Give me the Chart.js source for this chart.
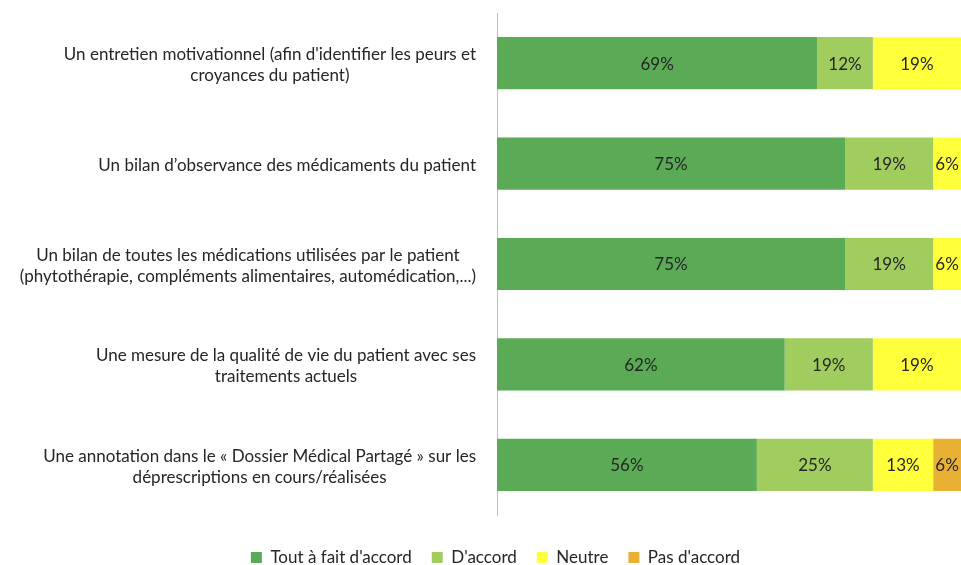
<!DOCTYPE html>
<html><head><meta charset="utf-8">
<script src="https://cdn.jsdelivr.net/npm/chart.js@4/dist/chart.umd.min.js"></script>
<style>html,body{margin:0;padding:0;background:#fff}canvas{display:block}</style>
</head><body>
<canvas id="c" width="961" height="565"></canvas>
<script>
const categories = [
  ["Un entretien motivationnel (afin d'identifier les peurs et", "croyances du patient)"],
  ["Un bilan d\u2019observance des médicaments du patient"],
  ["Un bilan de toutes les médications utilisées par le patient", "(phytothérapie, compléments alimentaires, automédication,...)"],
  ["Une mesure de la qualité de vie du patient avec ses", "traitements actuels"],
  ["Une annotation dans le « Dossier Médical Partagé » sur les", "déprescriptions en cours/réalisées"]
];
const seriesNames = ["Tout à fait d'accord", "D'accord", "Neutre", "Pas d'accord"];
const toutAFait = [69, 75, 75, 62, 56];
const dAccord = [12, 19, 19, 19, 25];
const neutre = [19, 6, 6, 19, 13];
const pasDAccord = [0, 0, 0, 0, 6];
const colors = ["#5BAA56", "#A0CD5E", "#FFFF3C", "#E9B133"];

const FONT = "Lato, 'Open Sans', sans-serif";

const labelPlugin = {
  id: 'customLabels',
  afterDatasetsDraw(chart) {
    const ctx = chart.ctx;
    ctx.save();
    ctx.font = "17px " + FONT;
    ctx.fillStyle = "#262626";
    ctx.textAlign = "center";
    ctx.textBaseline = "middle";
    chart.data.datasets.forEach((ds, di) => {
      const meta = chart.getDatasetMeta(di);
      meta.data.forEach((bar, i) => {
        const v = ds.data[i];
        if (!v) return;
        const x = (bar.x + bar.base) / 2;
        ctx.fillText(v + "%", x, bar.y + 1);
      });
    });
    const ys = chart.scales.y;
    const right = ys.right - 21;
    categories.forEach((lines, i) => {
      const yc = ys.getPixelForValue(i);
      let maxW = 0;
      lines.forEach(l => { maxW = Math.max(maxW, ctx.measureText(l).width); });
      const cx = right - maxW / 2;
      const lh = 21;
      const y0 = yc + 2 - (lines.length - 1) * lh / 2;
      lines.forEach((l, k) => ctx.fillText(l, cx, y0 + k * lh));
    });
    ctx.restore();
  }
};

new Chart(document.getElementById('c'), {
  type: 'bar',
  data: {
    labels: categories.map(c => c.join(' ')),
    datasets: [
      { label: seriesNames[0], data: toutAFait, backgroundColor: colors[0] },
      { label: seriesNames[1], data: dAccord, backgroundColor: colors[1] },
      { label: seriesNames[2], data: neutre, backgroundColor: colors[2] },
      { label: seriesNames[3], data: pasDAccord, backgroundColor: colors[3] }
    ]
  },
  options: {
    indexAxis: 'y',
    responsive: false,
    animation: false,
    layout: { padding: { top: 13, right: 0, left: 30, bottom: -11 } },
    datasets: { bar: { categoryPercentage: 1, barPercentage: 0.52, borderWidth: 0 } },
    scales: {
      x: {
        stacked: true, min: 0, max: 100, display: true,
        grid: { display: false, drawTicks: false },
        border: { display: false },
        ticks: { display: false },
        afterFit(scale) { scale.height = 14; }
      },
      y: {
        stacked: true,
        grid: { display: false, drawTicks: false },
        border: { display: true, color: '#BFBFBF', width: 1 },
        ticks: { display: false },
        afterFit(scale) { scale.width = 467; }
      }
    },
    plugins: {
      tooltip: { enabled: false },
      legend: {
        position: 'bottom',
        labels: {
          font: { family: FONT, size: 17 },
          color: '#262626',
          boxWidth: 11, boxHeight: 11,
          padding: 20
        }
      }
    }
  },
  plugins: [labelPlugin]
});
</script>
</body></html>
